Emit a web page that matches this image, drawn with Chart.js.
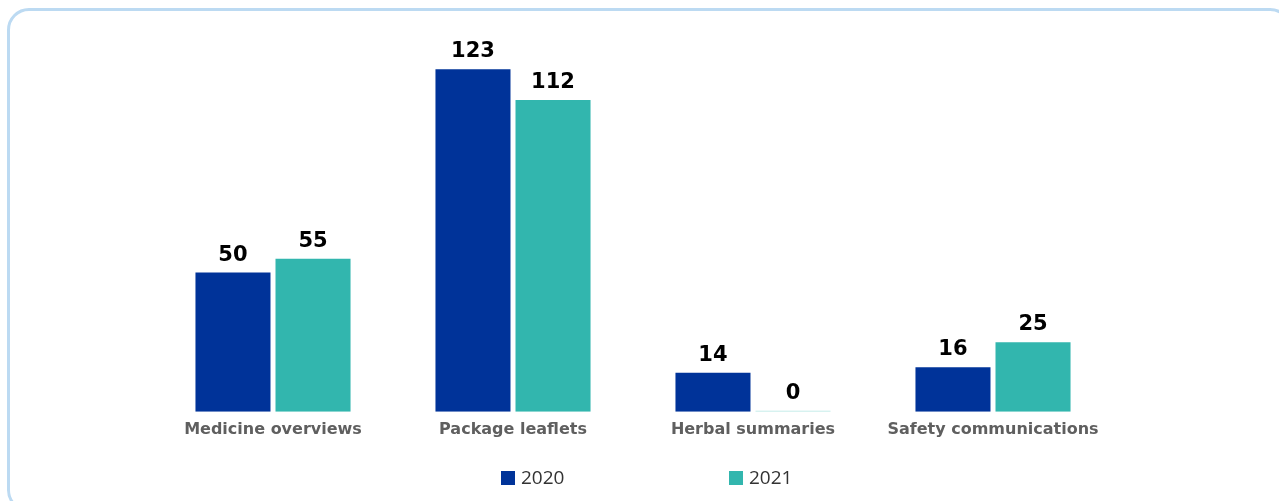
<!DOCTYPE html>
<html>
<head>
<meta charset="utf-8">
<script src="https://cdn.jsdelivr.net/npm/chart.js@4"></script>
<style>
  html, body { margin: 0; padding: 0; background: #fff; overflow: hidden; }
  #wrap { position: relative; width: 1279px; height: 501px; }
  #frame {
    position: absolute; left: 7px; top: 8px; width: 1285px; height: 504px;
    border: 3px solid #bcdaf2; border-radius: 22px; box-sizing: border-box;
  }
  #c { position: absolute; left: 0; top: 0; }
</style>
</head>
<body>
<div id="wrap">
  <div id="frame"></div>
  <canvas id="c" width="1279" height="501"></canvas>
</div>
<script>
// chart data
const categories = ['Medicine overviews', 'Package leaflets', 'Herbal summaries', 'Safety communications'];
const seriesNames = ['2020', '2021'];
const values2020 = [50, 123, 14, 16];
const values2021 = [55, 112, 0, 25];
const seriesColors = ['#003399', '#32b6ae'];

// value labels above each bar
const valueLabels = {
    id: 'valueLabels',
    afterDatasetsDraw(chart) {
        const ctx = chart.ctx;
        ctx.save();
        ctx.font = 'bold 21px "DejaVu Sans", Verdana, sans-serif';
        ctx.fillStyle = '#000';
        ctx.textAlign = 'center';
        ctx.textBaseline = 'alphabetic';
        chart.data.datasets.forEach((ds, i) => {
            chart.getDatasetMeta(i).data.forEach((bar, j) => {
                ctx.fillText(String(ds.data[j]), bar.x, bar.y - 12);
            });
        });
        ctx.restore();
    }
};

// legend drawn with wide spacing between items
const wideLegend = {
    id: 'wideLegend',
    afterDraw(chart) {
        const ctx = chart.ctx;
        const starts = [501, 729];
        const y = 471;
        ctx.save();
        ctx.font = '19px "Open Sans", sans-serif';
        ctx.textBaseline = 'middle';
        ctx.textAlign = 'left';
        chart.data.datasets.forEach((ds, i) => {
            ctx.fillStyle = seriesColors[i];
            ctx.fillRect(starts[i], y, 14, 14);
            ctx.fillStyle = '#333';
            ctx.fillText(ds.label, starts[i] + 20, y + 7.5);
        });
        ctx.restore();
    }
};

const ctx = document.getElementById('c').getContext('2d');
new Chart(ctx, {
    type: 'bar',
    data: {
        labels: categories,
        datasets: [
            { label: seriesNames[0], data: values2020, backgroundColor: seriesColors[0] },
            {
                label: seriesNames[1], data: values2021,
                backgroundColor: c => c.raw === 0 ? '#b8e8e4' : seriesColors[1],
                minBarLength: 1
            }
        ]
    },
    options: {
        responsive: false,
        animation: false,
        categoryPercentage: 0.667,
        barPercentage: 0.9375,
        layout: { padding: { left: 153, right: 166, top: 22, bottom: 54 } },
        scales: {
            x: {
                grid: { display: false, drawTicks: false },
                border: { display: false },
                ticks: {
                    padding: 8,
                    color: '#5f5f5f',
                    font: { family: '"DejaVu Sans", Verdana, sans-serif', size: 16, weight: 'bold' }
                }
            },
            y: { display: false, min: 0, max: 140 }
        },
        plugins: {
            legend: { display: false },
            tooltip: { enabled: false }
        }
    },
    plugins: [valueLabels, wideLegend]
});
</script>
</body>
</html>
